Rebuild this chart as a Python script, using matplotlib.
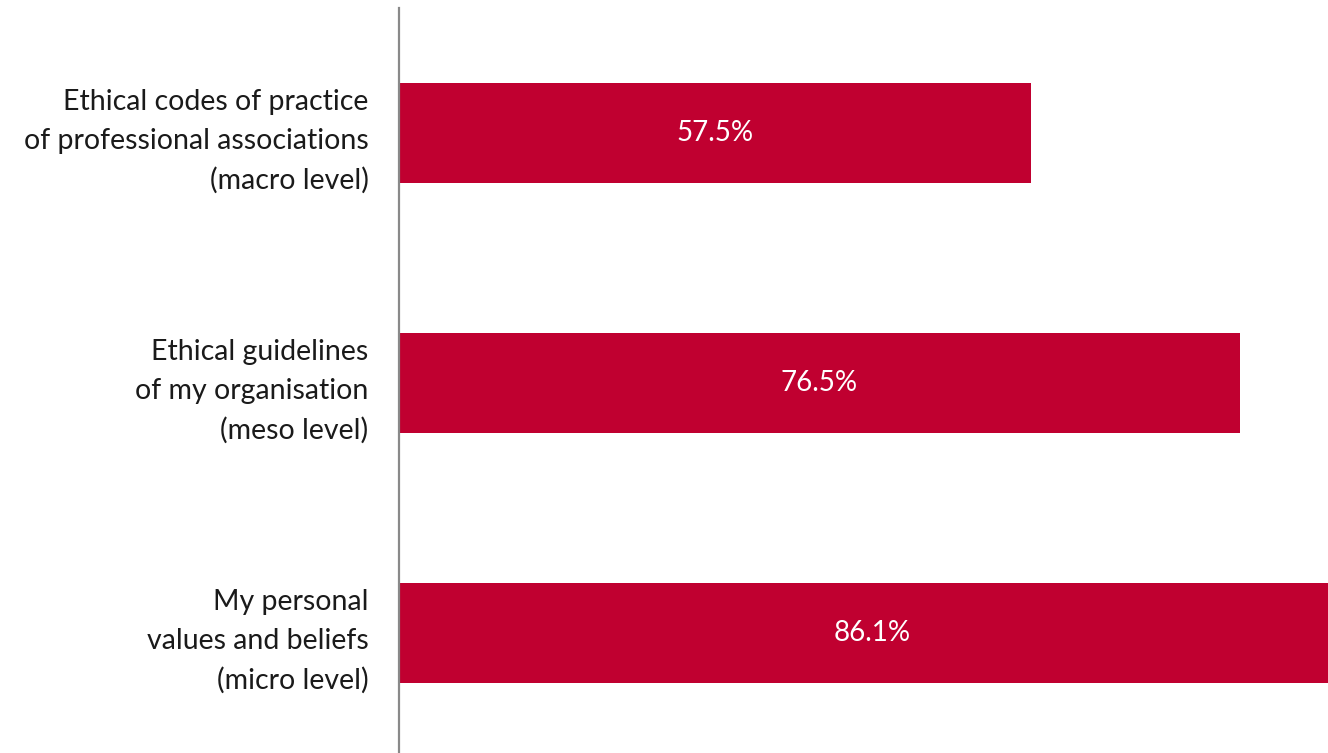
import matplotlib.pyplot as plt

# Sources of ethical orientation, share of respondents (%)
categories = [
    'Ethical codes of practice\nof professional associations\n(macro level)',
    'Ethical guidelines\nof my organisation\n(meso level)',
    'My personal\nvalues and beliefs\n(micro level)',
]
values = [57.5, 76.5, 86.1]

BAR_COLOR = '#C00030'
AXIS_COLOR = '#898989'

plt.rcParams['font.family'] = ['Lato', 'DejaVu Sans']

fig = plt.figure(figsize=(13.28, 7.53), dpi=100)
ax = fig.add_axes([0.3004, 0.0, 0.6996, 0.989])

pos = list(range(len(categories)))
ax.barh(pos, values, height=0.4, color=BAR_COLOR, clip_on=True)

for y, v in zip(pos, values):
    ax.text(v / 2, y, f'{v:.1f}%', ha='center', va='center',
            color='white', fontsize=20)

ax.set_xlim(0, 84.5)
ax.set_ylim(2.482, -0.498)
ax.set_yticks(pos)
ax.set_yticklabels(categories, fontsize=20.5, color='#1a1a1a',
                   ha='right', linespacing=1.6)
ax.tick_params(axis='y', length=0, pad=22)
ax.set_xticks([])

for side in ['top', 'right', 'bottom']:
    ax.spines[side].set_visible(False)
ax.spines['left'].set_color(AXIS_COLOR)
ax.spines['left'].set_linewidth(1.6)

fig.savefig('out.png', dpi=100)
